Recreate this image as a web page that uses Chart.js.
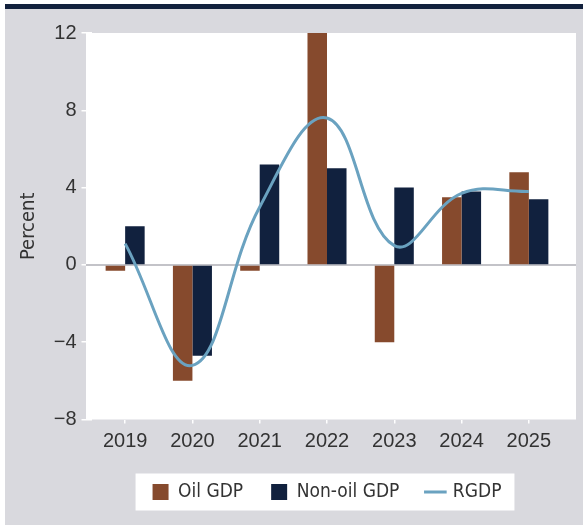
<!DOCTYPE html>
<html>
<head>
<meta charset="utf-8">
<script src="https://cdn.jsdelivr.net/npm/chart.js@4.4.1/dist/chart.umd.min.js"></script>
<style>
  html, body { margin: 0; padding: 0; background: #fff; }
</style>
</head>
<body>
<canvas id="gdpChart" width="583" height="527"></canvas>
<script>
const years = ["2019", "2020", "2021", "2022", "2023", "2024", "2025"];
const oilGdp = [-0.3, -6.0, -0.3, 12.1, -4.0, 3.5, 4.8];
const nonOilGdp = [2.0, -4.7, 5.2, 5.0, 4.0, 3.8, 3.4];
const rgdp = [1.1, -5.2, 3.0, 7.6, 1.0, 3.7, 3.8];
const yTicks = [-8, -4, 0, 4, 8, 12];

const textColor = "#333333";
const tickFont = { family: "'Liberation Sans', Arial, sans-serif", size: 20 };
const narrowFont = "'Liberation Sans Narrow', 'DejaVu Sans Condensed', 'Liberation Sans', sans-serif";

// grey panel, navy rule, white plot box, white legend box, zero line
const frame = {
  id: "frame",
  beforeDraw(chart) {
    const { ctx, chartArea: a, width, height } = chart;
    ctx.save();
    ctx.fillStyle = "#ffffff";
    ctx.fillRect(0, 0, width, height);
    ctx.fillStyle = "#d9d9de";
    ctx.fillRect(5, 9, width - 5, height - 11);
    ctx.fillStyle = "#12213d";
    ctx.fillRect(5, 4, width - 5, 5);
    ctx.fillStyle = "#ffffff";
    ctx.fillRect(a.left - 5.5, a.top, a.right - a.left + 19, a.bottom - a.top);
    const boxes = chart.legend && chart.legend.legendHitBoxes;
    if (boxes && boxes.length) {
      const l = Math.min(...boxes.map(b => b.left)) - 17;
      const r = Math.max(...boxes.map(b => b.left + b.width)) + 13;
      const cy = boxes[0].top + boxes[0].height / 2;
      ctx.fillRect(l, cy - 18.5, r - l, 37);
    }
    ctx.restore();
  },
  beforeDatasetsDraw(chart) {
    const { ctx, chartArea: a, scales } = chart;
    const y0 = scales.y.getPixelForValue(0);
    ctx.save();
    ctx.strokeStyle = "#c3c3c8";
    ctx.lineWidth = 2;
    ctx.beginPath();
    ctx.moveTo(a.left - 5.5, y0);
    ctx.lineTo(a.right + 13.5, y0);
    ctx.stroke();
    ctx.restore();
  }
};

new Chart(document.getElementById("gdpChart").getContext("2d"), {
  data: {
    labels: years,
    datasets: [
      {
        type: "bar",
        label: "Oil GDP",
        data: oilGdp,
        backgroundColor: "#864a2d",
        categoryPercentage: 0.58,
        barPercentage: 1.0,
        order: 1,
      },
      {
        type: "bar",
        label: "Non-oil GDP",
        data: nonOilGdp,
        backgroundColor: "#11213e",
        categoryPercentage: 0.58,
        barPercentage: 1.0,
        order: 1,
      },
      {
        type: "line",
        label: "RGDP",
        data: rgdp,
        borderColor: "#6aa2c0",
        backgroundColor: "#6aa2c0",
        borderWidth: 3,
        pointRadius: 0,
        tension: 0.4,
        fill: false,
        order: 0,
      },
    ],
  },
  options: {
    responsive: false,
    animation: false,
    layout: { padding: { left: 6, top: 33, right: 20.5, bottom: 15.5 } },
    plugins: {
      tooltip: { enabled: false },
      legend: {
        position: "bottom",
        fullSize: false,
        labels: {
          usePointStyle: true,
          boxWidth: 16,
          boxHeight: 16,
          padding: 28,
          color: textColor,
          font: { family: narrowFont, size: 19 },
          generateLabels(chart) {
            return chart.data.datasets.map((ds, i) => ({
              text: ds.label,
              fillStyle: ds.backgroundColor,
              strokeStyle: ds.type === "line" ? ds.borderColor : ds.backgroundColor,
              lineWidth: ds.type === "line" ? 3 : 0,
              pointStyle: ds.type === "line" ? "line" : "rect",
              hidden: false,
              datasetIndex: i,
              fontColor: textColor,
            }));
          },
        },
      },
    },
    scales: {
      x: {
        offset: true,
        grid: {
          offset: false,
          drawOnChartArea: false,
          drawTicks: true,
          tickLength: 4,
          tickColor: "#ffffff",
          lineWidth: 1.5,
        },
        border: { display: false },
        ticks: { color: textColor, font: tickFont, padding: 6 },
        afterFit(s) { s.height = 35; },
      },
      y: {
        min: -8,
        max: 12,
        afterBuildTicks(s) { s.ticks = yTicks.map(v => ({ value: v })); },
        grid: {
          drawOnChartArea: false,
          drawTicks: true,
          tickLength: 10,
          tickColor: "#ffffff",
          lineWidth: 1.5,
        },
        border: { display: false },
        ticks: {
          color: textColor,
          font: tickFont,
          padding: 5,
          callback: v => (v < 0 ? "\u2212" + Math.abs(v) : String(v)),
        },
        title: {
          display: true,
          text: "Percent",
          color: textColor,
          font: { family: narrowFont, size: 20 },
          padding: { top: 11, bottom: 0 },
        },
        afterFit(s) { s.width = 85.5; },
      },
    },
  },
  plugins: [frame],
});
</script>
</body>
</html>
